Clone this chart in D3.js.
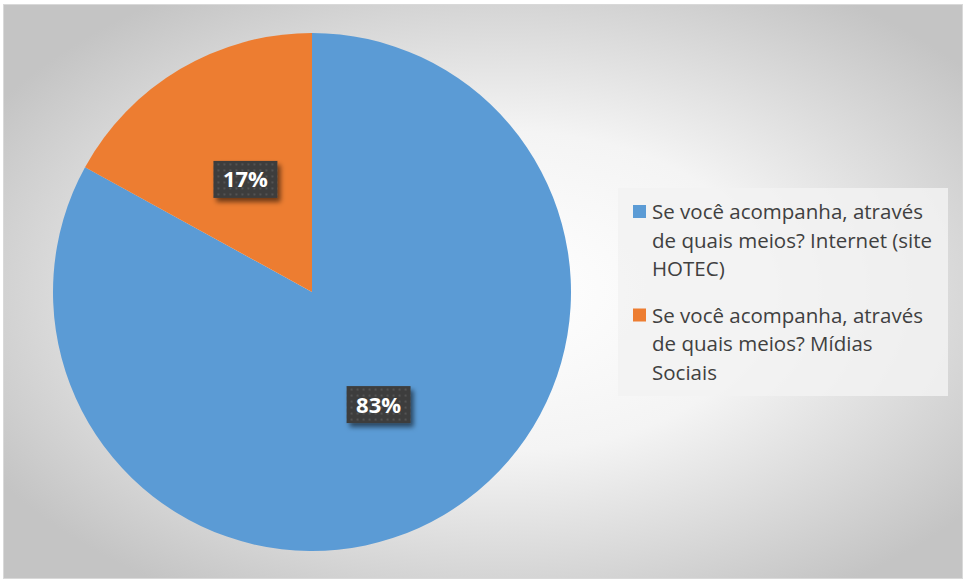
<!DOCTYPE html>
<html>
<head>
<meta charset="utf-8">
<script src="https://cdn.jsdelivr.net/npm/d3@7"></script>
<style>
  html, body { margin: 0; padding: 0; background: #fff; }
  svg { display: block; }
</style>
</head>
<body>
<svg id="chart" width="965" height="581"></svg>
<script>
// Responses: how people follow the updates
const categories = [
  "Se você acompanha, através de quais meios? Internet (site HOTEC)",
  "Se você acompanha, através de quais meios? Mídias Sociais"
];
const legendLines = [
  ["Se você acompanha, através", "de quais meios? Internet (site", "HOTEC)"],
  ["Se você acompanha, através", "de quais meios? Mídias", "Sociais"]
];
const values = [83, 17];
const colors = ["#5B9BD5", "#ED7D31"];

const svg = d3.select("#chart");

// background gradient and frame
const defs = svg.append("defs");
const grad = defs.append("radialGradient").attr("id", "bg")
  .attr("cx", "52%").attr("cy", "50%").attr("r", "62%");
grad.append("stop").attr("offset", "0%").attr("stop-color", "#ffffff");
grad.append("stop").attr("offset", "45%").attr("stop-color", "#f4f4f4");
grad.append("stop").attr("offset", "100%").attr("stop-color", "#c4c4c4");

const pat = defs.append("pattern").attr("id", "dots")
  .attr("width", 6).attr("height", 6).attr("patternUnits", "userSpaceOnUse");
pat.append("rect").attr("width", 6).attr("height", 6).attr("fill", "#3d3d3d");
pat.append("rect").attr("x", 2).attr("y", 2).attr("width", 2).attr("height", 2).attr("fill", "#525252");

const shadow = defs.append("filter").attr("id", "shadow")
  .attr("x", "-30%").attr("y", "-30%").attr("width", "170%").attr("height", "180%");
shadow.append("feDropShadow").attr("dx", 3).attr("dy", 4)
  .attr("stdDeviation", 2.5).attr("flood-color", "#000").attr("flood-opacity", 0.55);

svg.append("rect").attr("x", 3.5).attr("y", 4.5).attr("width", 959).attr("height", 574)
  .attr("fill", "url(#bg)").attr("stroke", "#d9d9d9").attr("stroke-width", 1);

// pie
const cx = 312, cy = 292, r = 259;
const pie = d3.pie().sort(null).value(d => d)(values);
const arc = d3.arc().innerRadius(0).outerRadius(r);
const labelArc = d3.arc().innerRadius(r * 0.505).outerRadius(r * 0.505);

const g = svg.append("g").attr("transform", `translate(${cx},${cy})`);
g.selectAll("path.slice").data(pie).join("path")
  .attr("class", "slice")
  .attr("d", arc)
  .attr("fill", (d, i) => colors[i]);

// data labels
const fmt = d => d3.format(".0f")(d) + "%";
const labels = g.selectAll("g.lbl").data(pie).join("g")
  .attr("class", "lbl")
  .attr("transform", d => `translate(${labelArc.centroid(d)})`);
labels.append("rect")
  .attr("x", -32).attr("y", -18.5).attr("width", 64).attr("height", 37)
  .attr("fill", "url(#dots)")
  .attr("filter", "url(#shadow)");
labels.append("text")
  .attr("text-anchor", "middle")
  .attr("dy", "0.36em")
  .attr("fill", "#ffffff")
  .attr("font-family", "'Open Sans', sans-serif")
  .attr("font-weight", 700)
  .attr("font-size", 22)
  .text(d => fmt(d.data));

// legend
const lg = svg.append("g");
lg.append("rect").attr("x", 618).attr("y", 188).attr("width", 330).attr("height", 208)
  .attr("fill", "#f2f2f2").attr("fill-opacity", 0.85);

const entries = lg.selectAll("g.entry").data(categories).join("g")
  .attr("class", "entry")
  .attr("transform", (d, i) => `translate(633, ${205 + i * 103.5})`);
entries.append("rect")
  .attr("width", 13).attr("height", 13)
  .attr("fill", (d, i) => colors[i]);
entries.append("text")
  .attr("font-family", "'Open Sans', sans-serif")
  .attr("font-size", 20.5)
  .attr("fill", "#404040")
  .selectAll("tspan").data((d, i) => legendLines[i]).join("tspan")
  .attr("x", 19)
  .attr("y", (d, j) => 14 + j * 28.5)
  .text(d => d);
</script>
</body>
</html>
